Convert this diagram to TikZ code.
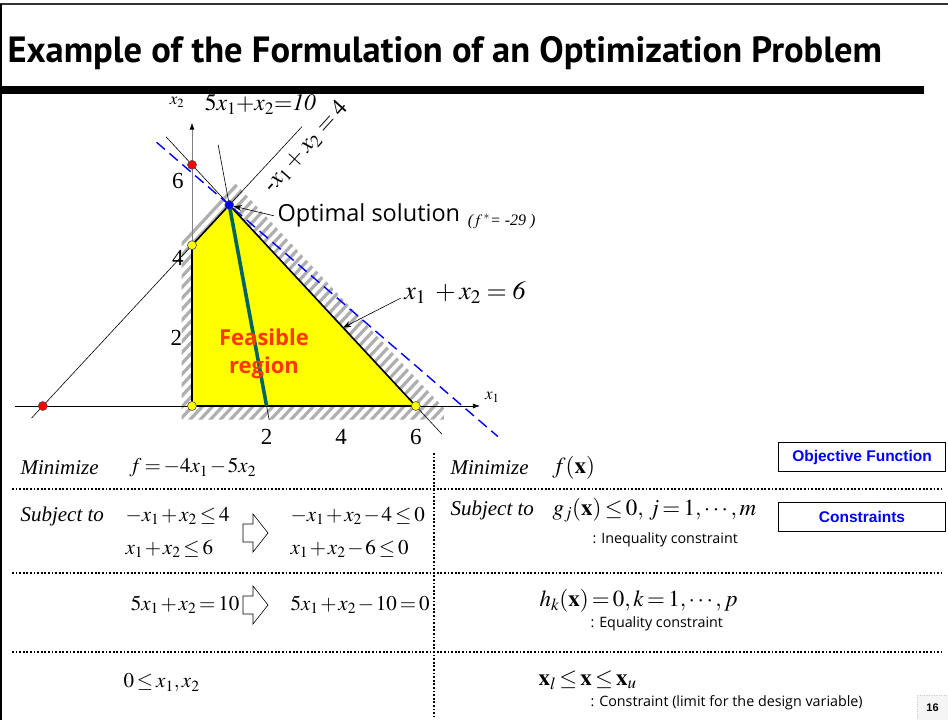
\documentclass[tikz,border=0pt]{standalone}
\usepackage{mathptmx}
\usepackage[no-math]{fontspec}
\setmainfont{Liberation Serif}
\newfontfamily\gothic{Open Sans}
\newfontfamily\headfont{PT Sans}
\newfontfamily\boxfont{Liberation Sans}
\usetikzlibrary{arrows.meta}
\tikzset{every node/.append style={align=center}}
\definecolor{feasyellow}{RGB}{255,255,0}
\definecolor{optteal}{RGB}{0,100,100}
\definecolor{feasred}{RGB}{255,55,0}
\definecolor{hatchgray}{RGB}{175,175,175}
\definecolor{boxblue}{RGB}{0,0,255}
\newcommand{\fs}[1]{\fontsize{#1}{#1}\selectfont}
\newcommand{\tightmath}{\medmuskip=1.5mu\thickmuskip=2.5mu}

\begin{document}
\begin{tikzpicture}[x=1pt, y=1pt,
  dotrule/.style={line width=2.4pt, dash pattern=on 1.8pt off 1.8pt},
  vdot/.style={circle, draw=black!70, line width=0.6pt, minimum size=9pt, inner sep=0pt},
  blockarrow/.style={draw, line width=0.6pt, fill=white, line join=miter},
  namebox/.style={draw, line width=0.9pt, minimum width=167pt, minimum height=29pt,
    text=boxblue, font=\boxfont\bfseries\fs{15.5}},
  eqn/.style={anchor=west, font=\fs{21}, execute at begin node=\tightmath},
  word/.style={anchor=west, font=\itshape\fs{21}},
  note/.style={anchor=west, font=\gothic\fs{14.3}}]

  \useasboundingbox (0,0) rectangle (948,720);

  % Frame and title bar
  \draw[line width=2pt, black!80] (0,716) -- (948,716);
  \draw[line width=2pt] (1,0) -- (1,716);
  \fill (0,626) rectangle (924,634);
  \node[anchor=west, font=\headfont\bfseries\fs{36.5}] (title) at (4,667)
    {Example of the Formulation of an Optimization Problem};

  % Graph
  \begin{scope}[shift={(192,314)}, x=37.3pt, y=40.2pt]
    % hatched infeasible side
    \begin{scope}[even odd rule]
      \clip (-0.28,-0.34) -- (6.75,-0.34) -- (6.75,-0.05) -- (1.1,5.6) -- (-0.28,4.22) -- cycle
        (0,0) -- (6,0) -- (1,5) -- (0,4) -- cycle;
      \foreach \k in {0,...,60}
        \draw[hatchgray, line width=3.2pt] (\k*0.27-8,-1) -- ++(8,8);
    \end{scope}

    % Axes
    \draw[-{Latex[length=7pt,width=5pt]}, line width=0.6pt] (-4.75,0) -- (7.72,0);
    \draw[gray, line width=1pt, -{Latex[black,length=7pt,width=5pt]}] (0,0) -- (0,7.05);

    % Feasible region
    \filldraw[fill=feasyellow, line width=1.6pt] (0,0) -- (6,0) -- (1,5) -- (0,4) -- cycle;

    % Constraint lines
    \draw[line width=0.6pt] (-4.3,-0.3) -- (2.95,6.95);
    \draw[line width=0.6pt] (-0.7,6.7) -- (6.7,-0.7);
    \draw[line width=0.6pt] (0.7,6.5) -- (2.07,-0.35);
    \draw[optteal, line width=3.6pt] (1,5) -- (2,0);

    % Objective contour f = -29
    \draw[blue, line width=1.4pt, dash pattern=on 11pt off 6pt] (-0.95,6.56) -- (8.2,-0.76);

    % Points
    \node[vdot, fill=red] (dotsix) at (0,6) {};
    \node[vdot, fill=red] (dotneg) at (-4,0) {};
    \node[vdot, fill=feasyellow] (dotorig) at (0,0) {};
    \node[vdot, fill=feasyellow] (dotfour) at (0,4) {};
    \node[vdot, fill=feasyellow] (dotright) at (6,0) {};
    \node[vdot, fill=blue] (optpt) at (1,5) {};

    % Labels
    \node[font=\fs{17}] (xtwo) at (-0.4,7.55) {$x_2$};
    \node[font=\fs{17}] (xone) at (8.05,0.22) {$x_1$};
    \node[anchor=west, font=\fs{23.5}] (eqten) at (0.25,7.5) {$5x_1{+}x_2{=}\mathit{10}$};
    \node[rotate=48, font=\fs{24}] (eqfour) at (3.05,6.45) {$\mbox{-}x_1 + x_2 = 4$};
    \node[anchor=west, font=\gothic\fs{23.5}] (optlabel) at (2.2,4.73) {Optimal solution};
    \node[anchor=west, font=\itshape\fs{16}] (fstar) at (7.3,4.6) {($f^{\,*}$= -29 )};
    \node[anchor=west, font=\fs{26}] (eqsix) at (5.6,2.81) {$x_1\; + x_2 = \mathit{6}$};
    \coordinate (onsix) at (4.05,1.95);
    \coordinate (nearopt) at (1.12,4.97);
    \draw[-{Stealth[length=8pt]}, line width=0.6pt] ([yshift=-5pt]eqsix.west) -- (onsix);
    \draw[-{Stealth[length=8pt]}, line width=0.6pt] (optlabel.west) -- (nearopt);
    \node[font=\gothic\bfseries\fontsize{22}{28}\selectfont, text=feasred] (feas) at (1.93,1.3)
      {Feasible\\region};

    % Tick values
    \foreach \t in {2,4,6}
      \node[font=\fs{23}] (tx\t) at (\t,-0.78) {\t};
    \node[font=\fs{23}] (ty6) at (-0.38,5.6) {6};
    \node[font=\fs{23}] (ty4) at (-0.38,3.68) {4};
    \node[font=\fs{23}] (ty2) at (-0.42,1.69) {2};
  \end{scope}

  % Table rules
  \draw[dotrule] (12,231) -- (942,231);
  \draw[dotrule] (12,147) -- (942,147);
  \draw[dotrule] (12,68) -- (942,68);
  \draw[dotrule] (434,267) -- (434,3);

  % Left column: the example
  \node[word] (minl) at (17,252) {Minimize};
  \node[eqn] (fobj) at (126,252) {$f=-4x_1-5x_2$};
  \node[word] (subl) at (17,204) {Subject to};
  \node[eqn] (ga) at (122,204) {$-x_1+x_2\le 4$};
  \node[eqn] (gb) at (122,171) {$x_1+x_2\le 6$};
  \node[eqn] (gan) at (287,204) {$-x_1+x_2-4\le 0$};
  \node[eqn] (gbn) at (287,171) {$x_1+x_2-6\le 0$};
  \node[eqn, anchor=east] (ha) at (243,115) {$5x_1+x_2=10$};
  \node[eqn] (han) at (287,115) {$5x_1+x_2-10=0$};
  \node[eqn] (bnd) at (120,37) {$0\le x_1,x_2$};
  \foreach \ay in {187,115}
    \draw[blockarrow] (243,\ay+9) -- (253,\ay+9) -- (253,\ay+19) -- (268,\ay)
      -- (253,\ay-19) -- (253,\ay-9) -- (243,\ay-9) -- cycle;

  % Right column: the standard form
  \node[word] (minr) at (447,252) {Minimize};
  \node[eqn, font=\fs{23}] (fgen) at (549,252) {$f(\mathbf{x})$};
  \node[word] (subr) at (447,210) {Subject to};
  \node[eqn, font=\fs{23}] (ggen) at (549,210) {$g_j(\mathbf{x})\le 0,\, j=1,\cdots,m$};
  \node[note] (ineq) at (589,180) {: Inequality constraint};
  \node[eqn, font=\fs{23}] (hgen) at (536,119) {$h_k(\mathbf{x})=0, k=1,\cdots,p$};
  \node[note] (eq) at (587,96) {: Equality constraint};
  \node[eqn, font=\fs{23}] (xgen) at (535,40) {$\mathbf{x}_l\le\mathbf{x}\le\mathbf{x}_u$};
  \node[note] (lim) at (587,17) {: Constraint (limit for the design variable)};
  \node[namebox] (objbox) at (862,263) {Objective Function};
  \node[namebox] (conbox) at (862,203) {Constraints};

  % Page number
  \node[draw=gray!40, dotted, fill=gray!8, minimum width=31pt, minimum height=25pt,
    font=\boxfont\bfseries\fs{11}] (page) at (932.5,12.5) {16};
\end{tikzpicture}
\end{document}
